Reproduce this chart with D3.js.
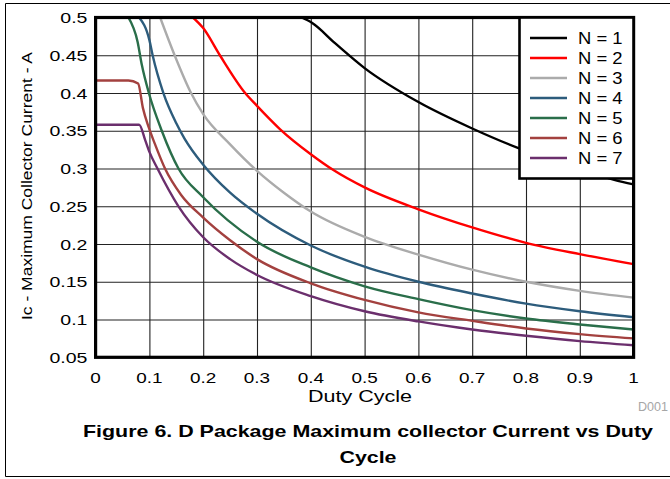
<!DOCTYPE html>
<html>
  <head>
    <title>D Package Maximum collector Current vs Duty Cycle</title>
    <script src="https://d3js.org/d3.v7.min.js"></script>
    <style>
      body { margin: 0; background: #fff; }
      svg { display: block; font-family: "Liberation Sans", Arial, sans-serif; }
      .grid .domain { display: none; }
      .grid .tick line { stroke: #222; stroke-width: 1.1px; }
      .tick-label { font-size: 15.5px; fill: #000; }
      .legend text { font-size: 16px; fill: #000; }
      .axis__label { font-size: 16.5px; fill: #000; }
      .axis__label--y { font-size: 15.5px; }
      .caption { font-size: 17px; font-weight: bold; fill: #000; }
      .code { font-size: 12px; fill: #a6a6a6; }
    </style>
  </head>
  <body>
    <svg width="670" height="479"></svg>
    <script>
      // [duty cycle, Ic in A]
      const n1 = [[0.383, 0.5], [0.402, 0.493], [0.445, 0.466], [0.5, 0.433], [0.6, 0.388],
        [0.7, 0.353], [0.786, 0.327], [0.9, 0.300], [0.964, 0.285], [1.0, 0.279]];
      const n2 = [[0.181, 0.5], [0.2, 0.486], [0.231, 0.45], [0.278, 0.4], [0.3, 0.383],
        [0.343, 0.352], [0.4, 0.319], [0.442, 0.298], [0.5, 0.275], [0.6, 0.246],
        [0.7, 0.222], [0.8, 0.2016], [0.9, 0.1866], [1.0, 0.1733]];
      const n3 = [[0.12, 0.5], [0.148, 0.448], [0.176, 0.402], [0.2, 0.372], [0.25, 0.332],
        [0.3, 0.297], [0.35, 0.268], [0.4, 0.243], [0.5, 0.2095], [0.6, 0.186],
        [0.7, 0.166], [0.8, 0.15], [0.9, 0.138], [1.0, 0.129]];
      const n4 = [[0.081, 0.5], [0.1, 0.47], [0.106, 0.45], [0.126, 0.4], [0.15, 0.36],
        [0.165, 0.34], [0.2, 0.305], [0.25, 0.268], [0.3, 0.240], [0.4, 0.198],
        [0.5, 0.170], [0.6, 0.15], [0.7, 0.1345], [0.8, 0.121], [0.9, 0.111],
        [1.0, 0.103]];
      const n5 = [[0.061, 0.5], [0.078, 0.468], [0.086, 0.437], [0.099, 0.4], [0.123, 0.35],
        [0.154, 0.3], [0.2, 0.262], [0.3, 0.203], [0.4, 0.169], [0.5, 0.144],
        [0.6, 0.127], [0.7, 0.1124], [0.8, 0.1014], [0.9, 0.0935], [1.0, 0.0868]];
      const n6 = [[0, 0.4166], [0.061, 0.4166], [0.079, 0.4126], [0.088, 0.38], [0.098, 0.356],
        [0.11, 0.333], [0.129, 0.3], [0.159, 0.265], [0.2, 0.235], [0.25, 0.205],
        [0.3, 0.18], [0.4, 0.148], [0.5, 0.126], [0.6, 0.1095], [0.7, 0.0983],
        [0.8, 0.0882], [0.9, 0.0807], [1.0, 0.075]];
      const n7 = [[0, 0.358], [0.081, 0.358], [0.092, 0.338], [0.1, 0.322], [0.115, 0.3],
        [0.154, 0.25], [0.2, 0.209], [0.25, 0.18], [0.3, 0.159], [0.4, 0.131],
        [0.5, 0.111], [0.6, 0.0975], [0.7, 0.0868], [0.8, 0.0785], [0.9, 0.0714],
        [1.0, 0.066]];

      const seriesNames = ["N = 1", "N = 2", "N = 3", "N = 4", "N = 5", "N = 6", "N = 7"];
      const seriesData = [n1, n2, n3, n4, n5, n6, n7];
      const xTicks = [0, 0.1, 0.2, 0.3, 0.4, 0.5, 0.6, 0.7, 0.8, 0.9, 1];
      const yTicks = [0.05, 0.1, 0.15, 0.2, 0.25, 0.3, 0.35, 0.4, 0.45, 0.5];

      const svg = d3.select("svg");
      const margin = {top: 17.5, left: 95.6};
      const innerWidth = 538;
      const innerHeight = 339.8;

      const colorScale = d3.scaleOrdinal()
        .domain(seriesNames)
        .range(["#000000", "#ff0000", "#ababab", "#2d5c7c", "#2a6e4a", "#a3413f", "#6b2f6d"]);

      // scales in page coordinates
      const xScale = d3.scaleLinear().domain([0, 1])
        .range([margin.left, margin.left + innerWidth]);
      const yScale = d3.scaleLinear().domain([0.05, 0.5])
        .range([margin.top + innerHeight, margin.top]);

      // the reference's lettering is wider than Arial, so widen it
      function stretch(sel, k) {
        sel.each(function(){
          const w = this.getComputedTextLength();
          d3.select(this)
            .attr("textLength", w * k)
            .attr("lengthAdjust", "spacingAndGlyphs");
        });
      }

      // outer figure frame (its right side runs off the page)
      svg.append("path")
        .attr("d", "M670,3.5H5.5V476.5H670")
        .attr("fill", "none").attr("stroke", "#000").attr("stroke-width", 1);

      // grid
      svg.append("g")
        .attr("class", "grid")
        .attr("transform", `translate(0, ${margin.top + innerHeight})`)
        .call(d3.axisBottom(xScale)
          .tickValues(xTicks)
          .tickSizeInner(-innerHeight)
          .tickSizeOuter(0))
        .call(s => s.selectAll("text").remove());
      svg.append("g")
        .attr("class", "grid")
        .attr("transform", `translate(${margin.left}, 0)`)
        .call(d3.axisLeft(yScale)
          .tickValues(yTicks)
          .tickSizeInner(-innerWidth)
          .tickSizeOuter(0))
        .call(s => s.selectAll("text").remove());

      // tick labels
      const xLabels = svg.append("g").selectAll("text")
        .data(xTicks)
        .enter().append("text")
          .attr("class", "tick-label")
          .attr("x", d => xScale(d))
          .attr("y", 383)
          .attr("text-anchor", "middle")
          .text(d => String(d));
      stretch(xLabels, 1.22);

      const yLabels = svg.append("g").selectAll("text")
        .data(yTicks)
        .enter().append("text")
          .attr("class", "tick-label")
          .attr("x", 87.5)
          .attr("y", d => yScale(d))
          .attr("dy", "0.36em")
          .attr("text-anchor", "end")
          .text(d => String(d));
      stretch(yLabels, 1.26);

      svg.append("clipPath").attr("id", "plot-clip")
        .append("rect")
          .attr("x", margin.left).attr("y", margin.top)
          .attr("width", innerWidth).attr("height", innerHeight);

      const line = d3.line()
        .x(d => xScale(d[0]))
        .y(d => yScale(d[1]))
        .curve(d3.curveMonotoneX);

      svg.append("g")
        .attr("clip-path", "url(#plot-clip)")
        .selectAll("path")
        .data(seriesData)
        .enter().append("path")
          .attr("d", line)
          .attr("fill", "none")
          .attr("stroke", (d, i) => colorScale(seriesNames[i]))
          .attr("stroke-width", 2.4);

      svg.append("rect")
        .attr("x", margin.left).attr("y", margin.top)
        .attr("width", innerWidth).attr("height", innerHeight)
        .attr("fill", "none").attr("stroke", "#000").attr("stroke-width", 3.2);

      // legend
      const legend = svg.append("g").attr("class", "legend");
      legend.append("rect")
        .attr("x", 519.5).attr("y", 17.5)
        .attr("width", 114).attr("height", 161)
        .attr("fill", "#fff").attr("stroke", "#000").attr("stroke-width", 2.6);
      legend.selectAll("line")
        .data(seriesNames)
        .enter().append("line")
          .attr("x1", 530).attr("x2", 567)
          .attr("y1", (d, i) => 38 + i * 20)
          .attr("y2", (d, i) => 38 + i * 20)
          .attr("stroke", colorScale)
          .attr("stroke-width", 2.6);
      const legendText = legend.selectAll("text")
        .data(seriesNames)
        .enter().append("text")
          .attr("x", 578)
          .attr("y", (d, i) => 38 + i * 20)
          .attr("dy", "0.36em")
          .text(d => d);
      stretch(legendText, 1.15);

      // axis titles
      svg.append("text")
        .attr("class", "axis__label")
        .attr("x", 360).attr("y", 402)
        .attr("text-anchor", "middle")
        .attr("textLength", 104).attr("lengthAdjust", "spacingAndGlyphs")
        .text("Duty Cycle");

      svg.append("text")
        .attr("class", "axis__label axis__label--y")
        .attr("transform", "rotate(-90)")
        .attr("x", -186).attr("y", 32)
        .attr("text-anchor", "middle")
        .attr("textLength", 268).attr("lengthAdjust", "spacingAndGlyphs")
        .text("Ic - Maximum Collector Current - A");

      svg.append("text")
        .attr("class", "code")
        .attr("x", 638).attr("y", 410.5)
        .attr("textLength", 30).attr("lengthAdjust", "spacingAndGlyphs")
        .text("D001");

      // caption
      svg.append("text")
        .attr("class", "caption")
        .attr("x", 368).attr("y", 437)
        .attr("text-anchor", "middle")
        .attr("textLength", 570).attr("lengthAdjust", "spacingAndGlyphs")
        .text("Figure 6. D Package Maximum collector Current vs Duty");
      svg.append("text")
        .attr("class", "caption")
        .attr("x", 368).attr("y", 463)
        .attr("text-anchor", "middle")
        .attr("textLength", 57).attr("lengthAdjust", "spacingAndGlyphs")
        .text("Cycle");
    </script>
  </body>
</html>
